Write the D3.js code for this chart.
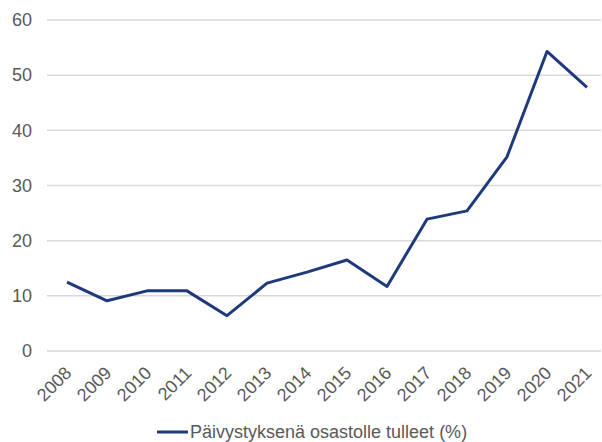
<!DOCTYPE html>
<html>
<head>
<meta charset="utf-8">
<script src="https://cdn.jsdelivr.net/npm/d3@7"></script>
<style>
  html, body { margin: 0; padding: 0; background: #fff; }
  svg { display: block; font-family: "Liberation Sans", Arial, sans-serif; }
</style>
</head>
<body>
<div id="chart"></div>
<script>
// Data
const years = ['2008', '2009', '2010', '2011', '2012', '2013', '2014',
               '2015', '2016', '2017', '2018', '2019', '2020', '2021'];
const values = [12.5, 9.1, 10.9, 10.9, 6.4, 12.3, 14.3,
                16.5, 11.7, 23.9, 25.4, 35.2, 54.3, 47.8];
const yTicks = [0, 10, 20, 30, 40, 50, 60];
const seriesName = 'Päivystyksenä osastolle tulleet (%)';

const width = 602;
const height = 442;
const lineColor = '#1f3a7c';
const textColor = '#595959';

const svg = d3.select('#chart').append('svg')
    .attr('width', width)
    .attr('height', height);

// Scales
const x = d3.scalePoint()
    .domain(years)
    .range([67, 587]);

const y = d3.scaleLinear()
    .domain([0, 60])
    .range([351, 20]);

// Gridlines
svg.append('g')
    .selectAll('line')
    .data(yTicks)
    .enter().append('line')
    .attr('x1', 47)
    .attr('x2', 601)
    .attr('y1', d => y(d))
    .attr('y2', d => y(d))
    .attr('stroke', '#d9d9d9')
    .attr('stroke-width', 1.5);

// Y axis labels
const yAxis = svg.append('g')
    .attr('transform', 'translate(32,0)')
    .call(d3.axisLeft(y).tickValues(yTicks).tickSize(0).tickPadding(0));
yAxis.select('.domain').remove();
yAxis.selectAll('text')
    .attr('fill', textColor)
    .style('font-size', '18px');

// X axis labels, rotated
const xAxis = svg.append('g')
    .attr('transform', 'translate(0,351)')
    .call(d3.axisBottom(x).tickSize(0));
xAxis.select('.domain').remove();
xAxis.selectAll('text')
    .attr('fill', textColor)
    .style('font-size', '18px')
    .attr('text-anchor', 'end')
    .attr('dy', 0)
    .attr('transform', 'translate(3,21) rotate(-45)');

// Series line
const line = d3.line()
    .x((d, i) => x(years[i]))
    .y(d => y(d));

svg.append('path')
    .datum(values)
    .attr('d', line)
    .attr('fill', 'none')
    .attr('stroke', lineColor)
    .attr('stroke-width', 3)
    .attr('stroke-linejoin', 'round');

// Legend
const legend = svg.append('g');
legend.append('line')
    .attr('x1', 157)
    .attr('x2', 188)
    .attr('y1', 432)
    .attr('y2', 432)
    .attr('stroke', lineColor)
    .attr('stroke-width', 3);
legend.append('text')
    .attr('x', 190)
    .attr('y', 438)
    .attr('fill', textColor)
    .style('font-size', '18px')
    .text(seriesName);
</script>
</body>
</html>
